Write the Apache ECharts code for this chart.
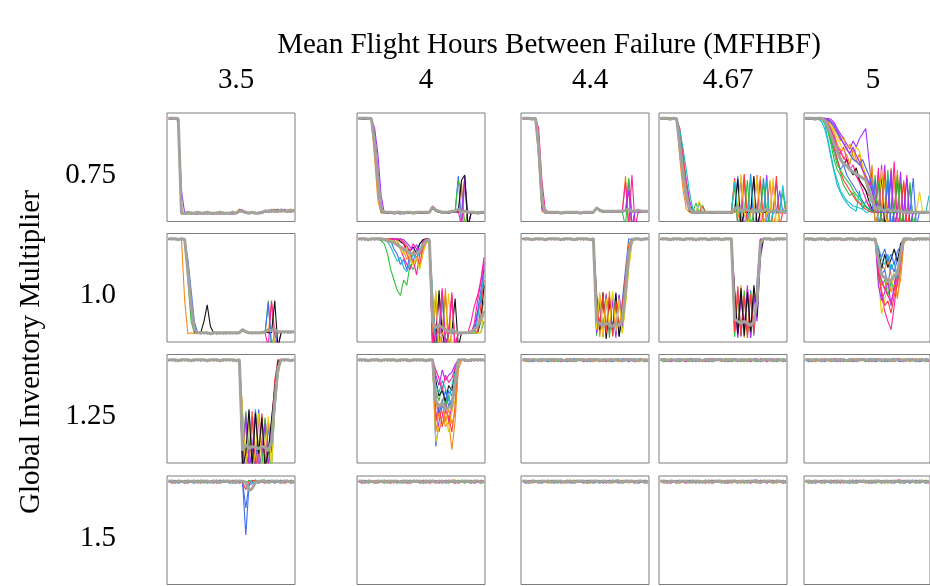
<!DOCTYPE html>
<html>
<head>
<meta charset="utf-8">
<script src="https://cdn.jsdelivr.net/npm/echarts@6/dist/echarts.min.js"></script>
<style>
html, body { margin: 0; padding: 0; background: #ffffff; }
#chart { width: 930px; height: 586px; }
</style>
</head>
<body>
<div id="chart"></div>
<script>
// Facet labels
const titleText = 'Mean Flight Hours Between Failure (MFHBF)';
const yTitleText = 'Global Inventory Multiplier';
const colLabels = ['3.5', '4', '4.4', '4.67', '5'];
const rowLabels = ['0.75', '1.0', '1.25', '1.5'];

// Each facet holds several simulation runs (0-100 scale, 40 time steps);
// the last run of every facet is the grey overview trace.

// MFHBF 3.5, multiplier 0.75
const r1c1 = [
  [100,99,100,99,8,7,8,9,7,8, 8,9,7,8,8,7,9,8,8,7, 8,9,11,9,8,8,9,8,9,8, 10,9,11,10,9,11,10,10,11,10],
  [99,100,99,100,9,8,7,8,9,8, 7,8,9,8,7,9,8,7,8,9, 8,8,12,10,8,9,8,9,8,9, 11,10,9,11,12,10,11,9,10,12],
  [100,100,99,98,10,8,9,7,8,9, 8,7,8,9,8,8,7,9,8,8, 9,8,10,11,9,8,8,9,8,8, 9,11,10,9,10,12,11,10,9,11],
  [99,100,100,99,7,9,8,8,7,8, 9,8,8,7,9,8,8,8,9,7, 8,9,12,10,9,8,9,8,9,9, 10,10,11,12,10,9,10,11,12,10],
  [100,99,100,100,30,8,8,9,8,7, 8,9,8,8,7,9,8,9,8,8, 7,8,11,11,8,9,8,8,9,8, 11,9,10,11,11,10,12,10,11,9],
  [100,100,100,99,8,8,9,8,8,9, 8,8,9,8,8,8,9,8,8,8, 9,8,10,10,9,8,9,8,8,9, 10,10,11,10,10,11,10,10,11,10]
];

// MFHBF 4, multiplier 0.75
const r1c2 = [
  [100,99,100,99,100,70,30,9,8,9, 8,9,8,7,9,8,9,8,8,9, 8,9,10,14,10,9,8,9,10,9, 9,44,-5,40,8,9,8,9,8,9],
  [99,100,99,100,98,60,20,8,9,8, 9,8,9,8,8,9,8,9,9,8, 9,8,9,13,11,9,9,8,9,10, 10,8,38,-5,9,8,9,8,9,8],
  [100,100,99,100,99,85,50,15,9,8, 8,9,8,9,8,8,9,8,9,8, 8,9,8,15,12,10,9,9,8,9, 9,10,-5,42,-5,8,9,8,9,8],
  [99,100,100,99,100,75,40,10,8,9, 9,8,9,8,9,9,8,8,9,9, 8,8,9,13,10,9,8,9,9,10, 9,40,30,-5,9,9,8,9,8,9],
  [100,99,100,100,99,90,65,25,8,9, 8,8,9,9,8,9,9,8,8,9, 9,8,9,14,11,10,9,8,9,9, 10,9,9,44,-5,8,9,9,8,9],
  [100,100,99,100,100,80,45,12,9,8, 9,9,8,9,9,8,8,9,9,8, 8,9,9,12,11,9,9,9,8,9, 9,10,40,45,-5,9,8,9,9,8],
  [100,100,100,100,99,75,40,12,9,9, 9,8,9,9,8,9,9,8,9,9, 9,9,9,14,11,10,9,9,9,10, 10,12,9,10,9,9,9,8,9,9]
];

// MFHBF 4.4, multiplier 0.75
const r1c3 = [
  [100,99,100,99,100,60,10,8,9,8, 9,8,9,8,9,8,8,9,8,9, 8,9,8,13,10,10,9,10,10,9, 10,10,44,-5,10,9,10,9,10,9],
  [99,100,99,100,99,80,25,9,8,9, 8,9,8,9,8,9,9,8,9,8, 9,8,9,12,11,9,10,9,10,10, 9,11,10,40,-5,10,9,10,9,10],
  [100,100,99,100,100,70,15,8,9,8, 9,8,9,8,8,9,8,9,8,9, 8,9,8,14,10,9,9,10,9,10, 10,9,-5,42,9,10,10,9,10,9],
  [99,100,100,99,100,90,40,12,9,8, 8,9,8,9,9,8,9,8,9,8, 9,8,9,12,11,10,10,9,10,9, 9,10,38,-5,45,-5,10,9,10,10],
  [100,99,100,100,99,65,12,9,8,9, 9,8,9,8,9,8,8,9,8,9, 8,9,9,13,10,9,10,10,9,10, 10,9,10,30,-5,10,9,10,9,10],
  [100,100,100,99,100,72,20,9,9,9, 9,9,8,9,9,9,9,9,8,9, 9,9,9,13,11,10,10,10,10,10, 10,10,11,12,10,10,11,10,10,10]
];

// MFHBF 4.67, multiplier 0.75
const r1c4 = [
  [100,99,100,99,100,98,70,40,20,9, 8,9,8,9,8,9,8,9,8,9, 8,9,9,42,-5,9,40,-5,9,8, 45,-5,9,9,8,38,9,8,9,8],
  [99,100,99,100,99,100,80,55,30,15, 9,8,18,9,8,9,8,8,9,8, 9,8,9,9,44,-5,9,9,46,-5, 9,9,42,-5,9,9,8,30,9,9],
  [100,100,99,100,100,99,60,30,12,9, 8,9,8,9,9,8,9,8,9,9, 8,9,8,40,9,-5,45,9,-5,9, 9,44,-5,9,40,-5,9,9,8,20],
  [99,100,100,99,100,100,85,60,40,20, 10,9,8,9,8,9,9,8,8,9, 9,8,9,9,9,43,-5,9,9,42, -5,9,9,45,-5,9,38,9,9,8],
  [100,99,100,100,99,98,75,45,25,12, 9,18,8,16,9,8,9,9,8,9, 8,9,9,35,-5,9,9,40,-5,9, 9,9,38,9,-5,9,9,9,28,9],
  [100,100,99,100,100,99,70,50,25,10, 9,8,9,8,9,9,8,9,9,8, 9,9,8,9,41,-5,9,9,9,44, -5,9,9,9,9,9,9,9,9,9],
  [100,99,100,99,100,99,90,65,35,15, 9,8,9,14,9,8,9,8,9,9, 8,9,9,9,9,9,46,-5,9,9, 9,40,-5,9,9,9,44,-5,9,9],
  [99,100,99,100,99,100,88,70,50,28, 12,9,9,8,9,9,8,9,9,8, 9,9,9,38,9,9,9,-5,42,9, 9,9,9,40,-5,9,9,9,35,9],
  [100,100,99,100,100,99,78,52,28,12, 9,9,20,9,8,9,9,9,8,9, 9,8,9,9,9,46,9,-5,9,9, 44,9,-5,9,9,42,-5,9,9,9],
  [100,100,100,99,100,99,72,45,25,12, 9,9,9,9,9,9,9,9,9,9, 9,9,9,12,14,10,12,11,10,12, 10,11,10,12,10,10,11,10,10,10]
];

// MFHBF 5, multiplier 0.75
const r1c5 = [
  [100,99,100,99,100,99,95,80,65,50, 40,30,25,20,18,15,14,13,12,20, 15,10,9,40,-5,9,35,-5,9,9, 9,9,8,9,8,9,9,8,9,25],
  [99,100,99,100,99,100,98,88,75,60, 50,45,35,30,25,28,22,18,15,14, 12,9,45,-5,9,9,50,-5,9,9, 38,-5,9,8,9,8,9,9,8,9],
  [100,100,99,100,100,99,100,98,90,80, 70,65,72,60,50,55,45,40,35,30, 25,50,-5,9,55,-5,9,9,45,-5, 9,9,8,9,9,8,9,9,9,8],
  [100,99,100,100,99,100,99,97,92,85, 75,70,60,65,55,70,60,55,50,40, 30,20,9,48,-5,9,9,52,-5,9, 9,40,-5,9,9,8,9,9,8,9],
  [100,100,99,100,100,99,98,94,85,78, 70,62,55,60,50,45,52,40,35,30, 20,12,9,9,45,-5,9,9,9,42, -5,9,9,9,8,9,9,8,9,9],
  [99,100,100,99,100,100,99,100,99,96, 90,85,80,75,70,78,72,80,85,90, 60,30,9,9,9,55,-5,9,9,9, 48,-5,9,9,8,9,9,9,9,9],
  [100,99,100,100,99,100,97,90,80,70, 60,50,55,45,40,35,30,25,20,15, 12,10,40,-5,9,9,9,42,-5,9, 9,9,9,35,-5,9,9,8,9,9],
  [100,100,99,100,100,99,100,96,92,88, 80,75,68,70,65,60,72,68,55,45, 35,25,15,9,50,9,-5,9,45,-5, 9,9,9,9,9,9,29,9,9,8],
  [99,100,100,99,100,100,98,92,82,72, 60,48,40,35,30,25,20,18,14,12, 10,9,9,9,9,48,-5,9,9,9, 9,38,-5,9,9,9,8,9,9,9],
  [100,99,100,100,99,97,90,78,62,48, 35,28,22,18,14,12,10,30,12,9, 9,42,-5,9,9,9,45,-5,9,9, 9,9,9,9,9,8,9,9,9,9],
  [99,100,100,99,100,100,99,99,95,90, 85,78,82,70,75,62,58,65,50,42, 35,55,-5,9,9,40,-5,9,9,50, -5,9,9,9,9,9,9,9,9,9],
  [100,100,99,100,100,99,99,95,88,82, 72,68,62,58,52,48,44,38,30,22, 15,9,9,52,-5,9,9,9,58,-5, 9,9,45,-5,9,9,9,9,9,9],
  [100,99,100,100,100,100,99,98,96,92, 86,80,76,70,65,60,58,55,60,52, 45,35,25,15,9,9,40,-5,9,9, 9,9,9,9,42,-5,9,9,9,9],
  [99,100,99,100,100,99,96,88,78,66, 55,50,44,40,36,30,26,22,18,15, 12,10,9,38,-5,9,9,9,9,45, -5,9,9,38,-5,9,9,9,9,9],
  [100,100,100,99,100,100,100,99,97,94, 88,82,75,70,66,72,64,58,50,44, 38,30,20,9,9,9,9,50,-5,9, 9,9,42,-5,9,9,9,9,9,9],
  [100,100,100,99,100,100,98,92,84,76, 68,60,56,54,50,48,46,44,42,40, 30,20,12,14,12,10,12,10,11,10, 10,9,9,9,9,9,9,9,9,9]
];

// MFHBF 3.5, multiplier 1.0
const r2c1 = [
  [100,99,100,99,100,99,60,20,9,8, 9,8,9,8,9,8,8,9,8,9, 8,9,8,12,10,9,8,9,9,9, 9,40,-5,9,9,10,9,10,9,10],
  [99,100,99,100,99,40,8,9,8,9, 8,9,8,9,8,9,9,8,9,8, 9,8,9,11,10,9,9,8,9,9, 10,9,38,-5,9,9,10,9,10,9],
  [100,100,99,100,100,100,75,40,15,9, 8,9,8,9,8,9,8,9,8,9, 8,9,9,12,9,9,9,9,8,9, 9,-5,40,9,-5,10,9,10,10,9],
  [99,100,100,99,100,99,70,30,10,9, 9,20,36,15,9,8,9,8,9,8, 9,8,9,11,10,9,9,9,9,9, 10,9,9,40,-5,9,10,9,9,10],
  [100,99,100,100,99,100,80,50,20,9, 8,9,8,9,9,8,9,8,8,9, 9,8,9,12,10,9,8,9,9,10, 9,38,-5,-5,9,10,9,10,9,10],
  [100,100,100,99,100,99,68,35,12,9, 9,9,9,8,9,9,9,9,9,9, 9,9,9,12,10,9,9,9,9,9, 10,12,11,12,10,10,10,10,10,10]
];

// MFHBF 4, multiplier 1.0
const r2c2 = [
  [100,99,100,99,100,99,100,98,95,85, 70,60,50,45,60,55,75,70,80,90, 95,98,100,-5,48,-5,9,45,-5,9, 9,9,9,9,9,9,9,9,9,20],
  [99,100,99,100,99,100,99,100,99,100, 98,90,85,75,80,70,85,78,90,95, 98,100,99,40,-5,9,50,-5,9,9, 9,9,9,9,9,9,15,30,50,70],
  [100,100,99,100,100,99,100,99,100,99, 100,98,95,90,82,75,70,80,65,85, 90,97,100,-5,9,46,-5,9,9,48, -5,9,9,9,9,20,35,45,60,82],
  [99,100,100,99,100,100,99,100,99,100, 99,100,98,92,88,80,85,75,80,72, 88,95,100,45,-5,9,9,52,-5,9, 9,9,9,9,9,9,9,9,25,40],
  [100,99,100,100,99,100,100,99,100,99, 100,99,100,97,95,90,88,92,85,95, 99,100,100,9,-5,50,9,-5,9,9, 42,-5,9,9,9,9,9,9,20,55],
  [100,100,99,100,100,99,100,100,99,100, 99,100,99,100,95,85,78,88,82,75, 92,98,99,-5,46,-5,9,9,9,45, -5,9,9,9,9,9,12,9,35,60],
  [99,100,100,99,100,100,99,100,100,99, 100,100,99,100,99,96,92,90,94,88, 95,100,99,30,9,-5,48,-5,9,9, 9,9,9,9,9,9,9,28,40,75],
  [100,99,100,99,100,99,100,99,100,97, 92,85,78,82,72,68,78,85,80,88, 96,99,100,48,-5,9,44,-5,9,9, 9,9,9,9,9,9,9,22,45,65],
  [99,100,99,100,99,100,99,100,99,100, 99,98,96,90,85,92,80,74,82,70, 85,96,100,9,50,-5,9,9,47,-5, 9,9,9,9,9,9,9,9,9,30],
  [100,100,99,100,100,99,100,99,100,99, 100,99,100,99,97,93,88,95,90,86, 97,100,99,-5,9,9,52,-5,9,44, -5,9,9,9,9,9,18,40,58,78],
  [100,100,100,99,100,100,100,100,99,98, 97,96,94,92,90,88,86,85,86,88, 94,98,99,20,14,16,14,12,10,12, 10,9,9,9,9,10,12,15,22,30]
];

// MFHBF 4.4, multiplier 1.0
const r2c3 = [
  [100,99,100,99,100,99,100,99,100,99, 100,99,100,99,100,99,100,99,100,99, 100,99,100,48,8,45,5,42,10,48, 6,40,70,100,99,100,99,100,99,100],
  [99,100,99,100,99,100,99,100,99,100, 99,100,99,100,99,100,99,100,99,100, 99,100,99,10,46,6,47,8,44,9, 45,20,50,85,100,99,100,99,100,99],
  [100,100,99,100,100,99,100,99,100,100, 99,100,100,99,100,99,100,100,99,100, 100,99,100,45,5,40,12,49,5,38, 12,30,60,95,100,100,99,100,100,99],
  [99,100,100,99,100,100,99,100,100,99, 100,100,99,100,100,99,100,99,100,100, 99,100,100,6,42,10,45,4,46,8, 44,10,40,75,98,100,100,99,100,100],
  [100,99,100,100,99,100,100,99,100,100, 99,100,100,99,100,100,99,100,100,99, 100,100,99,44,12,48,3,40,10,47, 5,25,55,90,100,99,100,100,99,100],
  [100,100,99,100,100,99,100,100,99,100, 100,99,100,100,99,100,100,99,100,100, 99,100,100,9,38,5,44,12,42,4, 46,15,45,80,97,100,99,100,100,99],
  [100,99,100,99,100,99,100,99,100,99, 100,99,100,99,100,99,100,99,100,99, 100,99,100,40,14,46,8,44,6,40, 14,35,65,92,100,99,100,99,100,100],
  [99,100,99,100,99,100,99,100,99,100, 99,100,99,100,99,100,99,100,99,100, 99,100,99,12,48,4,42,14,49,10, 42,8,35,70,96,100,99,100,99,100],
  [100,100,100,99,100,100,100,99,100,100, 100,100,99,100,100,100,99,100,100,100, 100,99,100,20,18,16,18,17,15,18, 16,20,50,85,99,100,100,99,100,100]
];

// MFHBF 4.67, multiplier 1.0
const r2c4 = [
  [100,99,100,99,100,99,100,99,100,99, 100,99,100,99,100,99,100,99,100,99, 100,99,100,52,6,48,8,55,5,45, 40,100,99,100,99,100,99,100,99,100],
  [99,100,99,100,99,100,99,100,99,100, 99,100,99,100,99,100,99,100,99,100, 99,100,99,8,50,5,46,10,50,6, 60,99,100,99,100,99,100,99,100,99],
  [100,100,99,100,100,99,100,99,100,100, 99,100,100,99,100,99,100,100,99,100, 100,99,100,45,10,55,4,44,8,52, 30,90,100,100,99,100,100,99,100,100],
  [99,100,100,99,100,100,99,100,100,99, 100,100,99,100,100,99,100,99,100,100, 99,100,100,5,44,7,50,6,48,10, 45,95,100,99,100,100,99,100,100,99],
  [100,99,100,100,99,100,100,99,100,100, 99,100,100,99,100,100,99,100,100,99, 100,100,99,50,4,46,12,52,4,44, 20,80,100,100,99,100,100,99,100,100],
  [100,99,100,99,100,99,100,99,100,99, 100,99,100,99,100,99,100,99,100,99, 100,99,100,10,54,6,44,4,46,8, 50,98,100,99,100,99,100,99,100,99],
  [99,100,99,100,99,100,99,100,99,100, 99,100,99,100,99,100,99,100,99,100, 99,100,99,48,8,52,6,48,10,55, 25,85,100,100,99,100,99,100,99,100],
  [100,100,100,99,100,100,100,99,100,100, 100,99,100,100,100,99,100,100,100,99, 100,100,100,22,20,18,20,18,16,20, 40,95,100,100,100,99,100,100,100,100]
];

// MFHBF 5, multiplier 1.0
const r2c5 = [
  [100,99,100,99,100,99,100,99,100,99, 100,99,100,99,100,99,100,99,100,99, 100,99,100,70,45,30,20,12,35,60, 80,100,99,100,99,100,99,100,99,100],
  [99,100,99,100,99,100,99,100,99,100, 99,100,99,100,99,100,99,100,99,100, 99,100,99,60,27,40,55,50,70,65, 90,99,100,99,100,99,100,99,100,99],
  [100,100,99,100,100,99,100,99,100,100, 99,100,100,99,100,99,100,100,99,100, 100,99,100,85,75,70,80,65,60,42, 70,100,100,99,100,100,99,100,100,99],
  [99,100,100,99,100,100,99,100,100,99, 100,100,99,100,100,99,100,99,100,100, 99,100,100,80,65,70,55,75,68,80, 88,100,99,100,100,99,100,99,100,100],
  [100,99,100,100,99,100,100,99,100,100, 99,100,100,99,100,100,99,100,100,99, 100,100,99,75,55,60,45,58,50,70, 85,99,100,100,99,100,100,99,100,100],
  [100,100,99,100,100,99,100,100,99,100, 100,99,100,100,99,100,100,99,100,100, 99,100,100,90,70,85,72,80,90,78, 95,100,99,100,100,99,100,100,99,100],
  [99,100,100,99,100,100,99,100,100,99, 100,100,99,100,100,99,100,100,99,100, 100,99,100,65,50,35,40,28,45,55, 75,100,100,99,100,100,99,100,100,99],
  [100,99,100,99,100,99,100,99,100,99, 100,99,100,99,100,99,100,99,100,99, 100,99,100,55,40,48,60,35,55,70, 82,100,99,100,99,100,99,100,99,100],
  [99,100,99,100,99,100,99,100,99,100, 99,100,99,100,99,100,99,100,99,100, 99,100,99,92,80,75,85,70,78,60, 80,100,100,99,100,99,100,99,100,99],
  [100,100,99,100,100,99,100,99,100,100, 99,100,100,99,100,99,100,100,99,100, 100,99,100,72,58,50,62,48,55,45, 60,95,100,99,100,100,99,100,100,99],
  [99,100,100,99,100,100,99,100,100,99, 100,100,99,100,100,99,100,99,100,100, 99,100,100,88,82,90,78,85,75,88, 92,100,99,100,100,99,100,99,100,100],
  [100,99,100,100,99,100,100,99,100,100, 99,100,100,99,100,100,99,100,100,99, 100,100,99,68,60,52,45,38,50,62, 78,100,100,99,100,99,100,100,99,100],
  [100,100,100,99,100,100,100,99,100,100, 100,100,99,100,100,100,99,100,100,100, 100,99,100,80,65,62,58,60,64,66, 85,100,100,100,99,100,100,100,100,100]
];

// MFHBF 3.5, multiplier 1.25
const r3c1 = [
  [100,99,100,99,100,99,100,99,100,99, 100,99,100,99,100,99,100,99,100,99, 100,99,100,-5,48,8,50,-5,45,10, 42,8,40,75,100,99,100,99,100,99],
  [99,100,99,100,99,100,99,100,99,100, 99,100,99,100,99,100,99,100,99,100, 99,100,99,10,-5,50,10,-5,52,8, -5,35,10,60,90,100,99,100,99,100],
  [100,100,99,100,100,99,100,99,100,100, 99,100,100,99,100,99,100,100,99,100, 100,99,100,45,10,-5,48,9,-5,46, 10,-5,30,70,95,100,100,99,100,100],
  [99,100,100,99,100,100,99,100,100,99, 100,100,99,100,100,99,100,99,100,100, 99,100,100,5,50,9,-5,52,10,-5, 44,10,-5,50,85,100,100,99,100,100],
  [100,99,100,100,99,100,100,99,100,100, 99,100,100,99,100,100,99,100,100,99, 100,100,99,48,-5,10,45,-5,9,48, -5,40,20,80,100,99,100,100,99,100],
  [100,100,99,100,100,99,100,100,99,100, 100,99,100,100,99,100,100,99,100,100, 99,100,100,-5,46,-5,12,50,-5,10, 38,-5,35,65,92,100,99,100,100,99],
  [100,99,100,99,100,99,100,99,100,99, 100,99,100,99,100,99,100,99,100,99, 100,99,100,50,-5,46,-5,10,48,-5, 9,45,-5,55,88,100,99,100,99,100],
  [99,100,99,100,99,100,99,100,99,100, 99,100,99,100,99,100,99,100,99,100, 99,100,99,-5,10,52,-5,48,9,44, -5,12,42,72,98,100,99,100,99,100],
  [100,100,100,99,100,100,100,99,100,100, 100,100,99,100,100,100,99,100,100,100, 100,99,100,12,18,14,16,15,14,16, 15,12,20,60,92,100,100,100,99,100]
];

// MFHBF 4, multiplier 1.25
const r3c2 = [
  [100,99,100,99,100,99,100,99,100,99, 100,99,100,99,100,99,100,99,100,99, 100,99,100,99,16,40,55,50,70,65, 80,99,100,99,100,99,100,99,100,99],
  [99,100,99,100,99,100,99,100,99,100, 99,100,99,100,99,100,99,100,99,100, 99,100,99,100,60,45,50,35,40,13, 40,95,100,99,100,99,100,99,100,99],
  [100,100,99,100,100,99,100,99,100,100, 99,100,100,99,100,99,100,100,99,100, 100,99,100,100,50,30,45,60,40,55, 70,100,100,99,100,100,99,100,100,99],
  [99,100,100,99,100,100,99,100,100,99, 100,100,99,100,100,99,100,99,100,100, 99,100,100,99,70,60,75,55,65,50, 85,100,99,100,100,99,100,99,100,100],
  [100,99,100,100,99,100,100,99,100,100, 99,100,100,99,100,100,99,100,100,99, 100,100,99,100,80,65,70,60,75,70, 90,100,100,99,100,100,99,100,100,99],
  [100,100,99,100,100,99,100,100,99,100, 100,99,100,100,99,100,100,99,100,100, 99,100,100,99,20,35,40,45,30,50, 60,100,99,100,99,100,100,99,100,100],
  [99,100,100,99,100,100,99,100,100,99, 100,100,99,100,100,99,100,100,99,100, 100,99,100,100,85,75,90,80,85,88, 95,100,100,99,100,99,100,100,99,100],
  [100,99,100,99,100,99,100,99,100,99, 100,99,100,99,100,99,100,99,100,99, 100,99,100,99,40,55,35,50,45,30, 55,98,100,99,100,99,100,99,100,99],
  [99,100,99,100,99,100,99,100,99,100, 99,100,99,100,99,100,99,100,99,100, 99,100,99,100,75,68,80,72,60,75, 88,100,100,99,100,99,100,99,100,99],
  [100,100,99,100,100,99,100,99,100,100, 99,100,100,99,100,99,100,100,99,100, 100,99,100,100,90,82,70,85,78,82, 92,100,100,99,100,100,99,100,100,99],
  [99,100,100,99,100,100,99,100,100,99, 100,100,99,100,100,99,100,99,100,100, 99,100,100,99,30,50,62,40,52,38, 48,90,99,100,100,99,100,99,100,100],
  [100,99,100,100,99,100,100,99,100,100, 99,100,100,99,100,100,99,100,100,99, 100,100,99,100,65,48,58,70,55,62, 75,100,100,99,100,99,100,100,99,100],
  [100,100,100,99,100,100,100,99,100,100, 100,100,99,100,100,100,99,100,100,100, 100,99,100,100,60,55,58,52,54,55, 78,100,100,100,99,100,100,100,100,100]
];

// MFHBF 3.5, multiplier 1.5
const r4c1 = [
  [100,99,101,99,100,98,100,99,101,100, 99,100,98,100,101,99,100,99,100,98, 100,101,99,99,48,96,98,101,100,99, 100,99,101,100,99,98,100,101,99,100],
  [99,101,100,98,99,100,101,99,98,100, 101,99,100,99,98,100,101,100,99,101, 99,98,100,100,74,97,101,99,98,100, 99,101,100,98,100,101,99,100,98,99],
  [100,98,99,101,100,99,98,100,100,99, 98,101,99,100,100,98,99,101,100,99, 101,100,98,99,92,100,100,101,99,99, 98,100,99,101,99,100,98,99,101,100],
  [101,100,98,100,99,101,99,100,99,101, 100,98,101,99,100,101,98,99,101,100, 98,99,101,100,98,101,99,100,99,101, 101,98,99,100,101,99,101,100,100,98],
  [100,100,99,100,100,99,100,100,100,99, 100,100,100,99,100,100,99,100,100,100, 99,100,100,100,99,91,93,99,100,100, 100,99,100,100,100,99,100,100,99,100]
];

// Runs that stay at full availability throughout
const flatA = [100,99,101,99,100,98,100,99,101,100, 99,100,98,100,101,99,100,99,100,98, 100,101,99,100,99,100,98,101,100,99, 100,99,101,100,99,98,100,101,99,100];
const flatB = [99,101,100,98,99,100,101,99,98,100, 101,99,100,99,98,100,101,100,99,101, 99,98,100,101,100,99,101,99,98,100, 99,101,100,98,100,101,99,100,98,99];
const flatC = [100,98,99,101,100,99,98,100,100,99, 98,101,99,100,100,98,99,101,100,99, 101,100,98,99,101,98,100,100,101,99, 98,100,99,101,99,100,98,99,101,100];
const flatD = [101,100,98,100,99,101,99,100,99,101, 100,98,101,99,100,101,98,99,101,100, 98,99,101,100,98,101,99,100,99,101, 101,98,99,100,101,99,101,100,100,98];
const flatMean = [100,100,99,100,100,99,100,100,100,99, 100,100,100,99,100,100,99,100,100,100, 99,100,100,100,99,100,100,99,100,100, 100,99,100,100,100,99,100,100,99,100];
const flat = [flatA, flatB, flatC, flatD, flatMean];

// ---- styling / layout ----
const palette = ['#3f6ef5', '#f28a1a', '#2fbf3a', '#ff1f9e', '#111111', '#a52bff', '#e8cf0c', '#ff3b3b', '#19bccc', '#8b5a2b'];
const meanColor = '#a3a39b';
const serif = '"Liberation Serif", "DejaVu Serif", serif';

const facets = [
  [ { runs: r1c1, colors: [0, 2, 3, 1, 5] },
    { runs: r1c2, colors: [0, 1, 3, 2, 5, 4] },
    { runs: r1c3, colors: [1, 0, 2, 3, 5] },
    { runs: r1c4, colors: [3, 0, 1, 5, 2, 4, 7, 8, 6] },
    { runs: r1c5, colors: [8, 2, 3, 1, 4, 5, 0, 6, 7, 8, 1, 3, 0, 2, 5] } ],
  [ { runs: r2c1, colors: [2, 1, 3, 4, 0] },
    { runs: r2c2, colors: [2, 0, 3, 1, 4, 7, 5, 8, 6, 3] },
    { runs: r2c3, colors: [0, 3, 1, 2, 4, 5, 7, 6] },
    { runs: r2c4, colors: [3, 0, 1, 2, 5, 7, 4] },
    { runs: r2c5, colors: [3, 6, 1, 0, 2, 4, 7, 5, 8, 1, 0, 3] } ],
  [ { runs: r3c1, colors: [3, 0, 1, 2, 7, 5, 6, 4] },
    { runs: r3c2, colors: [0, 1, 3, 2, 4, 6, 5, 7, 8, 3, 1, 0] },
    { runs: flat, colors: [3, 0, 1, 2] },
    { runs: flat, colors: [1, 3, 2, 0] },
    { runs: flat, colors: [2, 1, 0, 3] } ],
  [ { runs: r4c1, colors: [0, 0, 7, 2] },
    { runs: flat, colors: [0, 2, 3, 1] },
    { runs: flat, colors: [3, 1, 0, 2] },
    { runs: flat, colors: [2, 3, 1, 0] },
    { runs: flat, colors: [1, 0, 2, 3] } ]
];

const colLeft = [167, 357, 521, 659, 804];
const rowTop = [113, 233.5, 354.5, 476];
const cellW = 128;
const cellH = 108.5;

const grids = [], xAxes = [], yAxes = [], series = [];
facets.forEach((row, r) => {
  row.forEach((cell, c) => {
    const gi = grids.length;
    grids.push({
      left: colLeft[c], top: rowTop[r], width: cellW, height: cellH,
      show: true, borderColor: '#7d7d7d', borderWidth: 1, backgroundColor: 'transparent'
    });
    xAxes.push({ gridIndex: gi, type: 'value', min: -0.5, max: 39.3, show: false });
    yAxes.push({ gridIndex: gi, type: 'value', min: 0, max: 105, show: false });
    const n = cell.runs.length;
    cell.runs.forEach((vals, k) => {
      const isMean = k === n - 1;
      series.push({
        type: 'line',
        xAxisIndex: gi,
        yAxisIndex: gi,
        data: vals.map((v, i) => [i, v]),
        symbol: 'none',
        silent: true,
        clip: true,
        z: isMean ? 3 : 2,
        lineStyle: {
          width: isMean ? 3 : 1.1,
          color: isMean ? meanColor : palette[cell.colors[k % cell.colors.length]]
        }
      });
    });
  });
});

// Titles and facet strip labels
const graphics = [];
graphics.push({
  type: 'text', x: 549, y: 45,
  style: { text: titleText, font: '29px ' + serif, fill: '#000', textAlign: 'center', textVerticalAlign: 'middle' }
});
colLabels.forEach((t, c) => {
  graphics.push({
    type: 'text', x: colLeft[c] + cellW / 2 + 5, y: 80,
    style: { text: t, font: '29px ' + serif, fill: '#000', textAlign: 'center', textVerticalAlign: 'middle' }
  });
});
rowLabels.forEach((t, r) => {
  graphics.push({
    type: 'text', x: 116, y: rowTop[r] + cellH / 2 + 8,
    style: { text: t, font: '29px ' + serif, fill: '#000', textAlign: 'right', textVerticalAlign: 'middle' }
  });
});
graphics.push({
  type: 'text', x: 31, y: 352, rotation: Math.PI / 2,
  style: { text: yTitleText, font: '29px ' + serif, fill: '#000', textAlign: 'center', textVerticalAlign: 'middle' }
});

const chart = echarts.init(document.getElementById('chart'), null, { renderer: 'canvas' });
chart.setOption({
  animation: false,
  backgroundColor: '#ffffff',
  grid: grids,
  xAxis: xAxes,
  yAxis: yAxes,
  series: series,
  graphic: graphics
});
</script>
</body>
</html>
